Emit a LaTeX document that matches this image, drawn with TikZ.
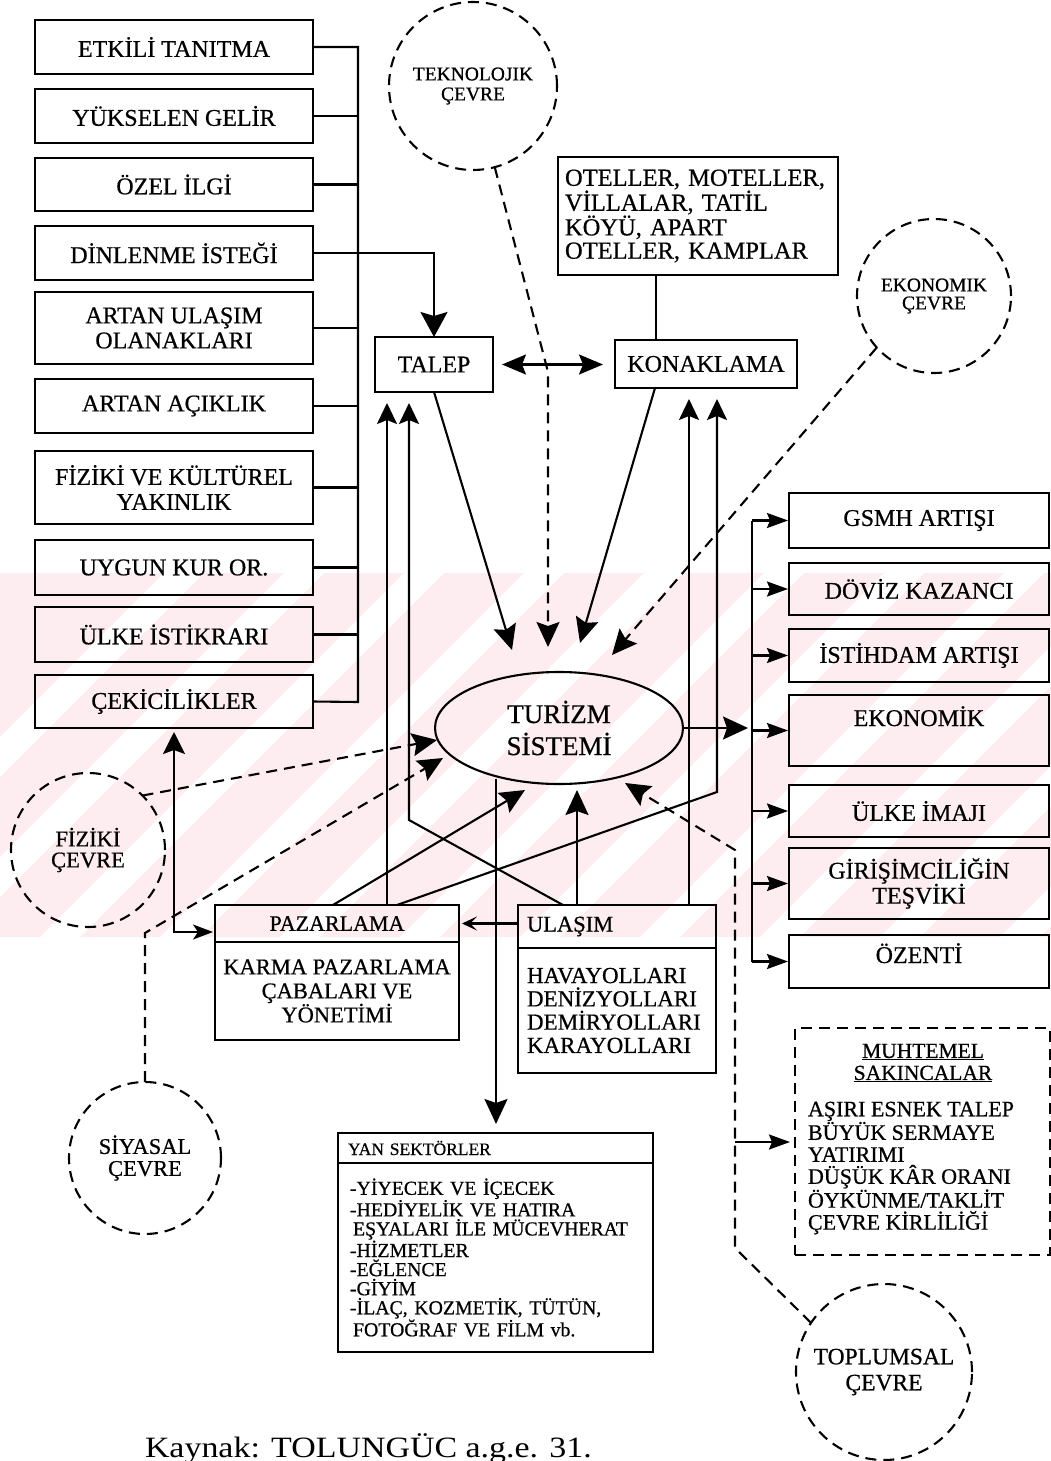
\documentclass[tikz,border=0pt]{standalone}
\usepackage{fontspec}
\setmainfont[FakeBold=0.6]{Liberation Serif}
\newfontfamily\capfont[FakeStretch=1.15]{Liberation Serif}
\usetikzlibrary{arrows.meta,shapes.geometric,calc}
\definecolor{wmpink}{RGB}{253,237,240}

\begin{document}
\begin{tikzpicture}[x=1pt,y=-1pt,
  every node/.style={inner sep=0pt,outer sep=0pt},
  lw/.style={line width=2.1pt},
  lbox/.style={draw,lw,minimum width=278pt,anchor=north west,align=center,
    font=\fontsize{24}{25}\selectfont},
  rbox/.style={draw,lw,minimum width=260pt,anchor=north west,align=center,
    font=\fontsize{24}{25}\selectfont},
  cbox/.style={draw,lw,align=center,font=\fontsize{24}{25}\selectfont},
  env/.style={circle,draw,lw,dash pattern=on 11pt off 7pt,align=center},
  link/.style={lw},
  dlink/.style={lw,dash pattern=on 11pt off 7pt},
  bigtip/.style={-{Stealth[length=25pt,width=23pt,inset=4pt]}},
  smalltip/.style={-{Stealth[length=21pt,width=15pt,inset=3pt]}},
  thintip/.style={-{Stealth[length=15pt,width=14pt,inset=7pt]}}
]
\useasboundingbox (0,0) rectangle (1051,1461);
\fill[white] (0,0) rectangle (1051,1461);

% ---- faint background band with diagonal stripes
\begin{scope}
  \clip (0,573) rectangle (1051,937);
  \fill[wmpink] (0,573) rectangle (1051,937);
  \foreach \s in {-200,-80,...,1300}
    \fill[white] (\s,937) -- (\s+40,937) -- (\s+40+364,573) -- (\s+364,573) -- cycle;
\end{scope}

% ---- driving factors (left column)
\node[lbox,minimum height=54pt] (l1) at (35,20) {ETKİLİ TANITMA};
\node[lbox,minimum height=54pt] (l2) at (35,89) {YÜKSELEN GELİR};
\node[lbox,minimum height=53pt] (l3) at (35,158) {ÖZEL İLGİ};
\node[lbox,minimum height=54pt] (l4) at (35,226) {DİNLENME İSTEĞİ};
\node[lbox,minimum height=72pt] (l5) at (35,292) {ARTAN ULAŞIM\\OLANAKLARI};
\node[lbox,minimum height=54pt] (l6) at (35,379) {ARTAN AÇIKLIK};
\node[lbox,minimum height=73pt] (l7) at (35,451) {FİZİKİ VE KÜLTÜREL\\YAKINLIK};
\node[lbox,minimum height=55pt] (l8) at (35,540) {UYGUN KUR OR.};
\node[lbox,minimum height=55pt] (l9) at (35,607) {ÜLKE İSTİKRARI};
\node[lbox,minimum height=53pt] (l10) at (35,675) {ÇEKİCİLİKLER};

% ---- demand and accommodation
\node[cbox,minimum width=118pt,minimum height=55pt] (talep) at (434,364.5) {TALEP};
\node[cbox,minimum width=182pt,minimum height=48pt] (konak) at (706,364) {KONAKLAMA};
\node[draw,lw,anchor=north west,minimum width=280pt,minimum height=118pt,
  text width=266pt,align=left,font=\fontsize{24.5}{23.3}\selectfont] (otel) at (558,157)
  {OTELLER, MOTELLER,\\VİLLALAR, TATİL\\KÖYÜ, APART\\OTELLER, KAMPLAR};

% ---- environments
\node[env,minimum size=168pt,font=\fontsize{19.5}{20}\selectfont] (tek) at (473,86) {TEKNOLOJIK\\ÇEVRE};
\node[env,minimum size=154pt,font=\fontsize{19.5}{18}\selectfont] (eko) at (934,296) {EKONOMIK\\ÇEVRE};
\node[env,minimum size=154pt,font=\fontsize{22.5}{21}\selectfont] (fiz) at (88,850) {FİZİKİ\\ÇEVRE};
\node[env,minimum size=152pt,font=\fontsize{22.5}{22}\selectfont] (siy) at (145,1158) {SİYASAL\\ÇEVRE};
\node[env,minimum size=176pt,font=\fontsize{23.5}{26}\selectfont] (top) at (884,1372) {TOPLUMSAL\\ÇEVRE};

% ---- tourism system
\node[ellipse,draw,lw,minimum width=248pt,minimum height=112pt,align=center,
  font=\fontsize{27}{32}\selectfont] (tur) at (559,728) {TURİZM\\SİSTEMİ};

% ---- marketing and transport
\node[draw,lw,anchor=north west,minimum width=244pt,minimum height=37pt,
  font=\fontsize{22}{23}\selectfont] (pazT) at (215,905) {PAZARLAMA};
\node[draw,lw,anchor=north west,minimum width=244pt,minimum height=98pt,align=center,
  font=\fontsize{22.5}{24}\selectfont] (pazB) at (pazT.south west) {KARMA PAZARLAMA\\ÇABALARI VE\\YÖNETİMİ};
\node[draw,lw,anchor=north west,minimum width=198pt,minimum height=43pt,
  text width=180pt,align=left,font=\fontsize{22.5}{23}\selectfont] (ulaT) at (518,905) {ULAŞIM};
\node[draw,lw,anchor=north west,minimum width=198pt,minimum height=125pt,
  text width=180pt,align=left,font=\fontsize{23}{23.3}\selectfont] (ulaB) at (ulaT.south west)
  {HAVAYOLLARI\\DENİZYOLLARI\\DEMİRYOLLARI\\KARAYOLLARI};

% ---- side sectors
\node[draw,lw,anchor=north west,minimum width=315pt,minimum height=30pt,
  text width=295pt,align=left,font=\fontsize{17.5}{19}\selectfont] (yanT) at (338,1133) {YAN SEKTÖRLER};
\node[draw,lw,anchor=north west,minimum width=315pt,minimum height=189pt,
  text width=291pt,align=left,font=\fontsize{19.8}{19.1}\selectfont] (yanB) at (yanT.south west)
  {-YİYECEK VE İÇECEK\\-HEDİYELİK VE HATIRA\\\hspace*{3pt}EŞYALARI İLE MÜCEVHERAT\\-HİZMETLER\\-EĞLENCE\\-GİYİM\\-İLAÇ, KOZMETİK, TÜTÜN,\\\hspace*{3pt}FOTOĞRAF VE FİLM vb.};

% ---- effects (right column)
\node[rbox,minimum height=55pt] (r1) at (789,493) {GSMH ARTIŞI};
\node[rbox,minimum height=52pt] (r2) at (789,563) {DÖVİZ KAZANCI};
\node[rbox,minimum height=53pt] (r3) at (789,629) {İSTİHDAM ARTIŞI};
\node[rbox,text height=31pt,text depth=40pt] (r4) at (789,695) {EKONOMİK};
\node[rbox,minimum height=52pt] (r5) at (789,785) {ÜLKE İMAJI};
\node[rbox,minimum height=71pt] (r6) at (789,848) {GİRİŞİMCİLİĞİN\\TEŞVİKİ};
\node[rbox,text height=28pt,text depth=25pt] (r7) at (789,935) {ÖZENTİ};

% ---- possible drawbacks
\node[draw,lw,dash pattern=on 11pt off 7pt,anchor=north west,minimum width=255pt,
  minimum height=227pt] (muh) at (795,1028) {};
\node[align=center,font=\fontsize{21.5}{22}\selectfont] (muhT) at (923,1063)
  {\underline{MUHTEMEL}\\\underline{SAKINCALAR}};
\node[anchor=west,align=left,font=\fontsize{22}{22}\selectfont] (muhB) at (808,1168)
  {AŞIRI ESNEK TALEP\\BÜYÜK SERMAYE\\YATIRIMI\\DÜŞÜK KÂR ORANI\\ÖYKÜNME/TAKLİT\\ÇEVRE KİRLİLİĞİ};

% ---- source line
\node[anchor=base west,font=\capfont\fontsize{29.5}{30}\selectfont] (src) at (145,1457)
  {Kaynak: TOLUNGÜC a.g.e. 31.};

% ================= connectors
% left bus
\coordinate (lbusT) at (358,47);
\coordinate (lbusB) at (358,702);
\draw[link] (l1.east) -- (lbusT) -- (lbusB) -- (l10.east);
\foreach \n in {l2,l3,l5,l6,l7,l8,l9} \draw[link] (\n.east) -- (\n.east -| lbusT);
\draw[link,-{Stealth[length=25pt,width=27pt,inset=4pt]}] (l4.east) -| (talep.north);

% demand <-> accommodation
\draw[link,{Stealth[length=24pt,width=20pt,inset=4pt]}-{Stealth[length=24pt,width=20pt,inset=4pt]},
  shorten <=9pt,shorten >=12pt] (talep.east) -- (talep.east -| konak.west);
\draw[link] ([xshift=-50pt]konak.north) -- ([xshift=-50pt]konak.north |- otel.south);

% into the tourism system
\coordinate (aTal) at (512,650);
\coordinate (aTek) at (548,647);
\coordinate (aKon) at (580,643);
\coordinate (aEko) at (612,655);
\coordinate (tekB) at (548,372);
\draw[link,bigtip] (talep.south) -- (aTal);
\draw[dlink,bigtip] (tek.-75) -- (tekB) -- (aTek);
\draw[link,bigtip] ([xshift=-51pt]konak.south) -- (aKon);
\draw[dlink,bigtip] (eko.-138) -- (aEko);

% marketing / transport links
\coordinate (pTal) at (387,905);
\coordinate (pKon) at (397,905);
\coordinate (pKonB) at (717,792);
\coordinate (pTur) at (333,905);
\coordinate (aTurP) at (525,790);
\coordinate (uTal) at (563,905);
\coordinate (uTalB) at (409,820);
\coordinate (uKon) at (689,905);
\coordinate (uTur) at (577,905);
\coordinate (aTurU) at (577,790);
\tikzset{uptip/.style={-{Stealth[length=21pt,width=20pt,inset=4pt]},shorten >=11pt}}
\draw[link,uptip] (pTal) -- (pTal |- talep.south);
\draw[link,uptip] (uTal) -- (uTalB) -- (uTalB |- talep.south);
\draw[link,uptip] (uKon) -- (uKon |- konak.south);
\draw[link,uptip] (pKon) -- (pKonB) -- (pKonB |- konak.south);
\draw[link,bigtip] (pTur) -- (aTurP);
\draw[link,bigtip] (uTur) -- (aTurU);
\draw[link,thintip,shorten >=3pt] (pazT.east -| ulaT.west) -- (pazT.east);

% to side sectors
\coordinate (turY) at (496,779);
\draw[link,bigtip,shorten >=9pt] (turY) -- (turY |- yanT.north);

% attractions <-> marketing
\coordinate (pW) at ($(pazT.south west)+(0,-10)$);
\draw[link,{Stealth[length=22pt,width=22pt,inset=4pt]}-{Stealth[length=20pt,width=15pt,inset=5pt]},
  shorten <=4pt,shorten >=2pt] (l10.south) |- (pW);

% physical, political and social environments
\coordinate (aFiz) at (437,740);
\coordinate (aSiy) at (443,758);
\coordinate (aTop) at (625,783);
\coordinate (tpB1) at (735,1248);
\coordinate (tpB2) at (735,850);
\coordinate (tpM) at (735,1142);
\draw[dlink,bigtip] (fiz.45) -- (aFiz);
\draw[dlink,bigtip] (siy.north) -- ++(0,-149) -- (aSiy);
\draw[dlink,bigtip] (top.146) -- (tpB1) -- (tpB2) -- (aTop);
\draw[link,smalltip,shorten >=5pt] (tpM) -- (tpM -| muh.west);

% effects bus
\coordinate (rbus) at (752,0);
\draw[link] (r1.west -| rbus) -- (r7.west -| rbus);
\foreach \r in {r1,r2,r3,r4,r5,r6,r7} \draw[link,smalltip,shorten >=1pt] (\r.west -| rbus) -- (\r.west);
\draw[link,bigtip,shorten >=4pt] (tur.east) -- (tur.east -| rbus);
\end{tikzpicture}
\end{document}
